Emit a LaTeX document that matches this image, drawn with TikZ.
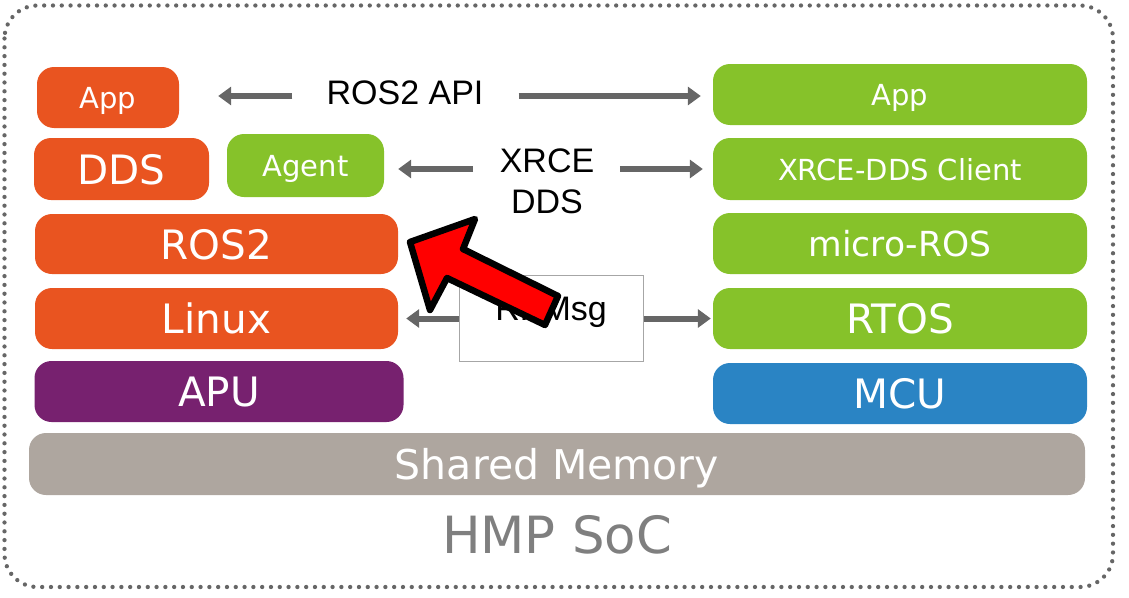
\documentclass[tikz,border=0pt]{standalone}
\usepackage{fontspec}
\setmainfont{DejaVu Sans}
\newfontfamily\arialfont{Liberation Sans}
\usetikzlibrary{arrows.meta}

\definecolor{ubOrange}{HTML}{E95420}
\definecolor{ubGreen}{HTML}{86C22A}
\definecolor{ubPurple}{HTML}{77216F}
\definecolor{ubBlue}{HTML}{2A84C4}
\definecolor{memGray}{HTML}{AEA69F}
\definecolor{flowGray}{HTML}{666666}
\definecolor{socGray}{HTML}{7F7F7F}

\tikzset{
  layer/.style={rounded corners=17pt, inner sep=0pt, text=white, text depth=0pt,
                font=\fontsize{40.5}{48}\selectfont},
  small/.style={font=\fontsize{29}{35}\selectfont},
  caption/.style={inner sep=0pt, font=\arialfont\fontsize{34}{41}\selectfont},
  flow/.style={draw=flowGray, line width=6pt, -{Triangle[length=13pt,width=18pt]}}
}

\begin{document}
\begin{tikzpicture}[x=1pt,y=-1pt]
        \useasboundingbox (0,0) rectangle (1129,597);
        \draw[flowGray, line width=4.3pt, line cap=round, dash pattern=on 0pt off 8.8pt,
              rounded corners=33pt] (4.5,5.5) rectangle (1113,587);

        % left side: APU
        \node (Lapp)    at (108,97.5)  [layer,small,fill=ubOrange,minimum width=142pt,minimum height=61pt] {App};
        \node (Ldds)    at (121.5,169) [layer,fill=ubOrange,minimum width=175pt,minimum height=62pt] {DDS};
        \node (Lagent)  at (305.5,165.5) [layer,small,fill=ubGreen,minimum width=157pt,minimum height=63pt] {Agent};
        \node (Lros)    at (216.5,244) [layer,fill=ubOrange,minimum width=363pt,minimum height=60pt] {ROS2};
        \node (Llinux)  at (216.5,318.5) [layer,fill=ubOrange,minimum width=363pt,minimum height=61pt] {Linux};
        \node (Lapu)    at (219,391.5) [layer,fill=ubPurple,minimum width=369pt,minimum height=61pt] {APU};

        % right side: MCU
        \node (Rapp)    at (900,94.5)  [layer,small,fill=ubGreen,minimum width=374pt,minimum height=61pt] {App};
        \node (Rxrce)   at (900,169)   [layer,small,fill=ubGreen,minimum width=374pt,minimum height=62pt] {XRCE-DDS Client};
        \node (Rmicro)  at (900,243.5) [layer,fill=ubGreen,minimum width=374pt,minimum height=61pt,font=\fontsize{34.5}{41}\selectfont] {micro-ROS};
        \node (Rrtos)   at (900,318.5) [layer,fill=ubGreen,minimum width=374pt,minimum height=61pt] {RTOS};
        \node (Rmcu)    at (900,393.5) [layer,fill=ubBlue,minimum width=374pt,minimum height=61pt] {MCU};

        \node (Shmem)   at (557,464)   [layer,fill=memGray,minimum width=1056pt,minimum height=62pt,font=\fontsize{41}{49}\selectfont] {Shared Memory};
        \node (Soc)     at (557,535)   [text=socGray,font=\fontsize{51.3}{61}\selectfont] {HMP SoC};

        % links between the two sides
        \node (Api)     at (405,104)   [caption,anchor=base] {ROS2 API};
        \node (Xrce)    at (547,181.4) [caption,align=center] {XRCE\\DDS};
        \node (Rpmsg)   at (551,318)   [draw=black!35,fill=white,line width=1pt,minimum width=184pt,minimum height=86pt] {};
        \node (Rpmsgtxt) at (551,320)  [caption,anchor=base] {RPMsg};

        \draw[flow, shorten <=34pt, shorten >=39pt] ([yshift=8pt]Api.base west) -- ([yshift=8pt]Api.base west -| Lapp.east);
        \draw[flow, shorten <=35pt, shorten >=12pt] ([yshift=8pt]Api.base east) -- ([yshift=8pt]Api.base east -| Rapp.west);
        \draw[flow, shorten <=26.5pt, shorten >=14pt] (Xrce.west |- Rxrce.west) -- (Lagent.east |- Rxrce.west);
        \draw[flow, shorten <=25.5pt, shorten >=10pt] (Xrce.east |- Rxrce.west) -- (Rxrce.west);
        \draw[flow, shorten >=8pt] (Rpmsg.west |- Llinux.east) -- (Llinux.east);
        \draw[flow, shorten >=2pt] (Rpmsg.east |- Rrtos.west) -- (Rrtos.west);

        % big red pointer
        \draw[line width=6.5pt, line join=round, fill=red] (410,242) -- (475,219) -- (463,249) -- (558,296)
              -- (545,325) -- (447,278) -- (430,310) -- cycle;
\end{tikzpicture}
\end{document}
